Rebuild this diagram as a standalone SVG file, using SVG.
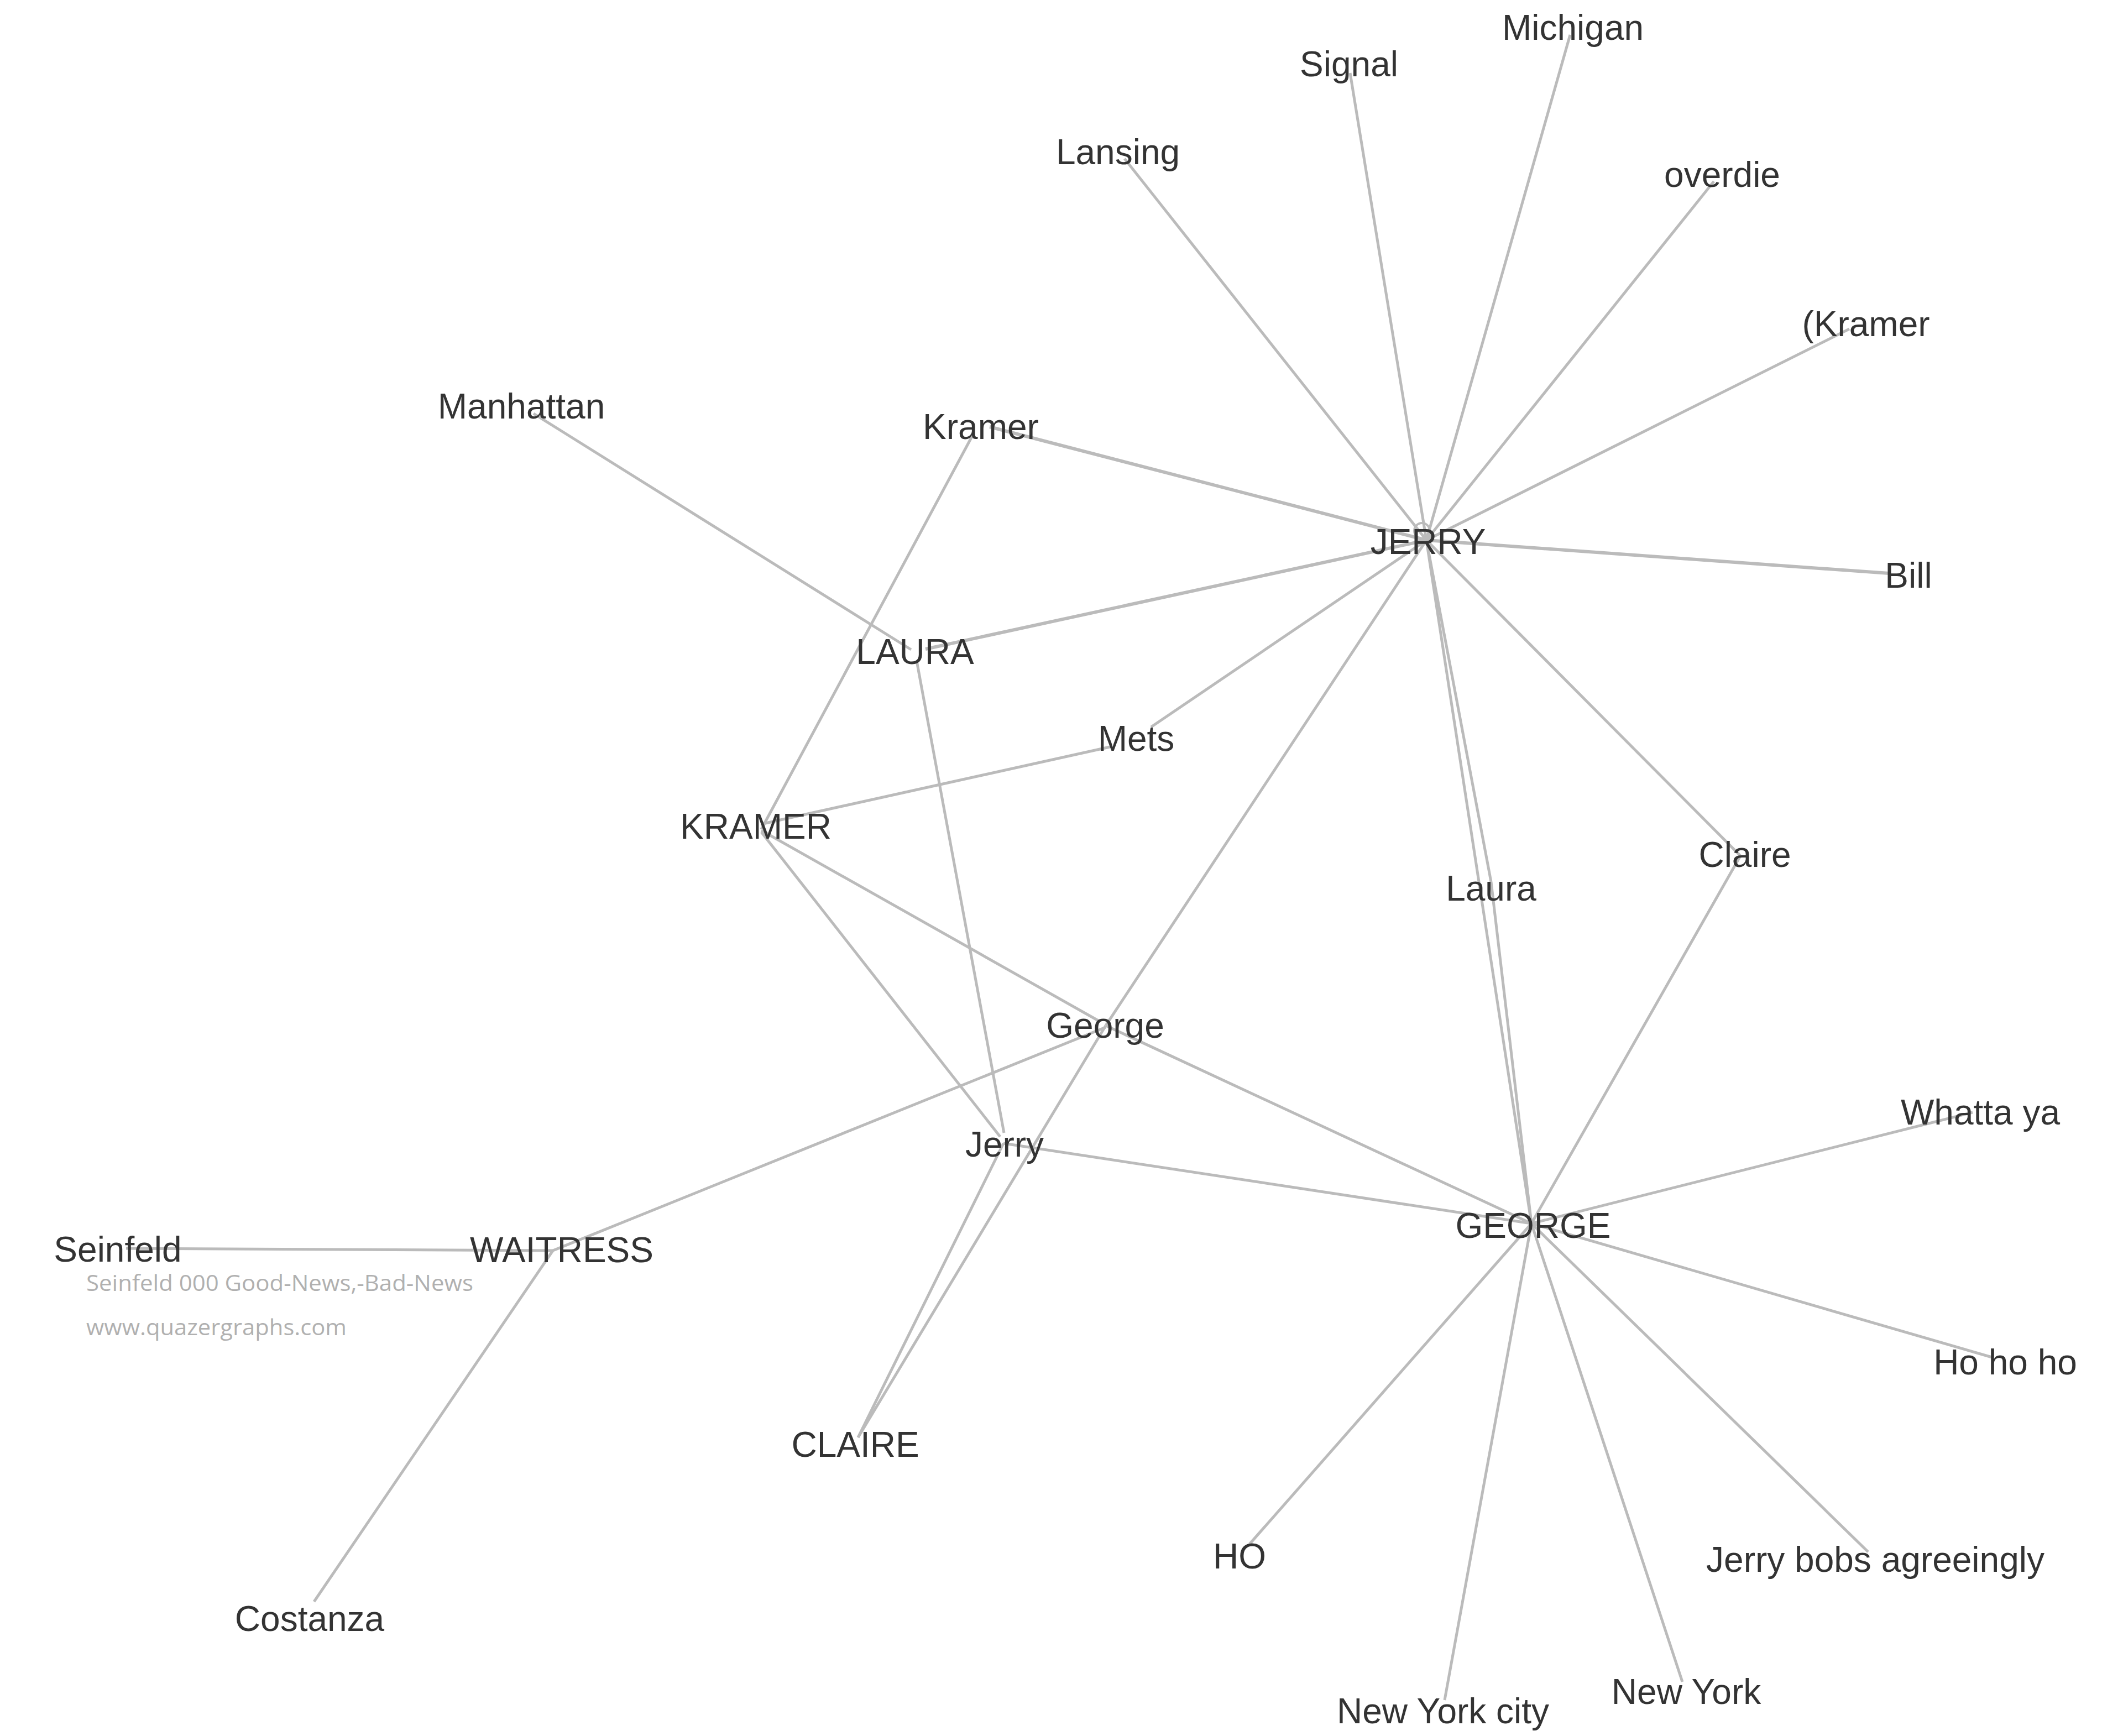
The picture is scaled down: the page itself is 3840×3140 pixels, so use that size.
<svg xmlns="http://www.w3.org/2000/svg" width="3840" height="3140" viewBox="0 0 3840 3140">
<style>
.e{stroke:#bbbbbb;stroke-width:5;fill:none;stroke-linecap:butt}
.t{font-family:"Liberation Sans",Arial,sans-serif;font-size:64px;fill:#333333;text-anchor:middle}
.w{font-family:"Open Sans","Noto Sans",sans-serif;font-size:40px;fill:#b0b0b0}
</style>
<rect width="3840" height="3140" fill="#ffffff"/>
<g id="connectors">
<line class="e" x1="2580" y1="977" x2="2840" y2="63"/>
<line class="e" x1="2580" y1="977" x2="2442" y2="132"/>
<line class="e" x1="2580" y1="977" x2="2034" y2="287"/>
<line class="e" x1="2580" y1="977" x2="3100" y2="328"/>
<line class="e" x1="2580" y1="977" x2="3345" y2="595"/>
<line class="e" x1="2580" y1="977" x2="3417" y2="1037" style="stroke-width:6"/>
<line class="e" x1="2580" y1="977" x2="1790" y2="772" style="stroke-width:6"/>
<line class="e" x1="2580" y1="977" x2="1674" y2="1174" style="stroke-width:6"/>
<line class="e" x1="2580" y1="977" x2="2082" y2="1315"/>
<line class="e" x1="2580" y1="977" x2="2000" y2="1855"/>
<line class="e" x1="2580" y1="977" x2="3148" y2="1548"/>
<line class="e" x1="2580" y1="977" x2="2697" y2="1595"/>
<line class="e" x1="2580" y1="977" x2="2770" y2="2213"/>
<circle class="e" cx="2572" cy="960" r="14" style="stroke-width:4"/>
<line class="e" x1="1761" y1="784" x2="1377" y2="1500"/>
<line class="e" x1="965" y1="748" x2="1648" y2="1175"/>
<line class="e" x1="1658" y1="1195" x2="1816" y2="2049"/>
<line class="e" x1="2012" y1="1350" x2="1380" y2="1490"/>
<line class="e" x1="1377" y1="1502" x2="1990" y2="1848"/>
<line class="e" x1="1377" y1="1505" x2="1809" y2="2056"/>
<line class="e" x1="2000" y1="1855" x2="2770" y2="2213"/>
<line class="e" x1="2000" y1="1858" x2="1000" y2="2262"/>
<line class="e" x1="2000" y1="1855" x2="1552" y2="2600"/>
<line class="e" x1="1815" y1="2068" x2="2770" y2="2213"/>
<line class="e" x1="1815" y1="2068" x2="1552" y2="2600"/>
<line class="e" x1="2697" y1="1595" x2="2770" y2="2213"/>
<line class="e" x1="3148" y1="1548" x2="2770" y2="2213"/>
<line class="e" x1="2770" y1="2213" x2="3568" y2="2012"/>
<line class="e" x1="2770" y1="2213" x2="3603" y2="2455"/>
<line class="e" x1="2770" y1="2213" x2="3379" y2="2807"/>
<line class="e" x1="2770" y1="2213" x2="3043" y2="3042"/>
<line class="e" x1="2770" y1="2213" x2="2613" y2="3075"/>
<line class="e" x1="2770" y1="2213" x2="2260" y2="2793"/>
<line class="e" x1="1000" y1="2262" x2="228" y2="2258"/>
<line class="e" x1="1000" y1="2262" x2="568" y2="2897"/>
</g>
<g id="n-jerry-caps"><text class="t" x="2583" y="1002">JERRY</text></g>
<g id="n-george-caps"><text class="t" x="2773" y="2239">GEORGE</text></g>
<g id="n-michigan"><text class="t" x="2845" y="72">Michigan</text></g>
<g id="n-signal"><text class="t" x="2440" y="138">Signal</text></g>
<g id="n-lansing"><text class="t" x="2022" y="297">Lansing</text></g>
<g id="n-overdie"><text class="t" x="3115" y="338">overdie</text></g>
<g id="n-pkramer"><text class="t" x="3375" y="608">(Kramer</text></g>
<g id="n-bill"><text class="t" x="3452" y="1063">Bill</text></g>
<g id="n-manhattan"><text class="t" x="943" y="757">Manhattan</text></g>
<g id="n-kramer"><text class="t" x="1774" y="794">Kramer</text></g>
<g id="n-laura-caps"><text class="t" x="1655" y="1201">LAURA</text></g>
<g id="n-mets"><text class="t" x="2055" y="1358">Mets</text></g>
<g id="n-kramer-caps"><text class="t" x="1367" y="1517">KRAMER</text></g>
<g id="n-claire"><text class="t" x="3156" y="1568">Claire</text></g>
<g id="n-laura"><text class="t" x="2697" y="1629">Laura</text></g>
<g id="n-george"><text class="t" x="1999" y="1877">George</text></g>
<g id="n-jerry"><text class="t" x="1817" y="2092">Jerry</text></g>
<g id="n-whatta"><text class="t" x="3582" y="2034">Whatta ya</text></g>
<g id="n-seinfeld"><text class="t" x="213" y="2282">Seinfeld</text></g>
<g id="n-waitress"><text class="t" x="1016" y="2283">WAITRESS</text></g>
<g id="n-hohoho"><text class="t" x="3627" y="2486">Ho ho ho</text></g>
<g id="n-claire-caps"><text class="t" x="1547" y="2635">CLAIRE</text></g>
<g id="n-ho"><text class="t" x="2242" y="2837">HO</text></g>
<g id="n-jerrybobs"><text class="t" x="3392" y="2843">Jerry bobs agreeingly</text></g>
<g id="n-costanza"><text class="t" x="560" y="2950">Costanza</text></g>
<g id="n-newyork"><text class="t" x="3050" y="3082">New York</text></g>
<g id="n-newyorkcity"><text class="t" x="2610" y="3117">New York city</text></g>
<g id="watermark">
<text class="w" x="156" y="2335" textLength="700" lengthAdjust="spacingAndGlyphs">Seinfeld 000 Good-News,-Bad-News</text>
<text class="w" x="156" y="2415" textLength="471" lengthAdjust="spacingAndGlyphs">www.quazergraphs.com</text>
</g>
</svg>
